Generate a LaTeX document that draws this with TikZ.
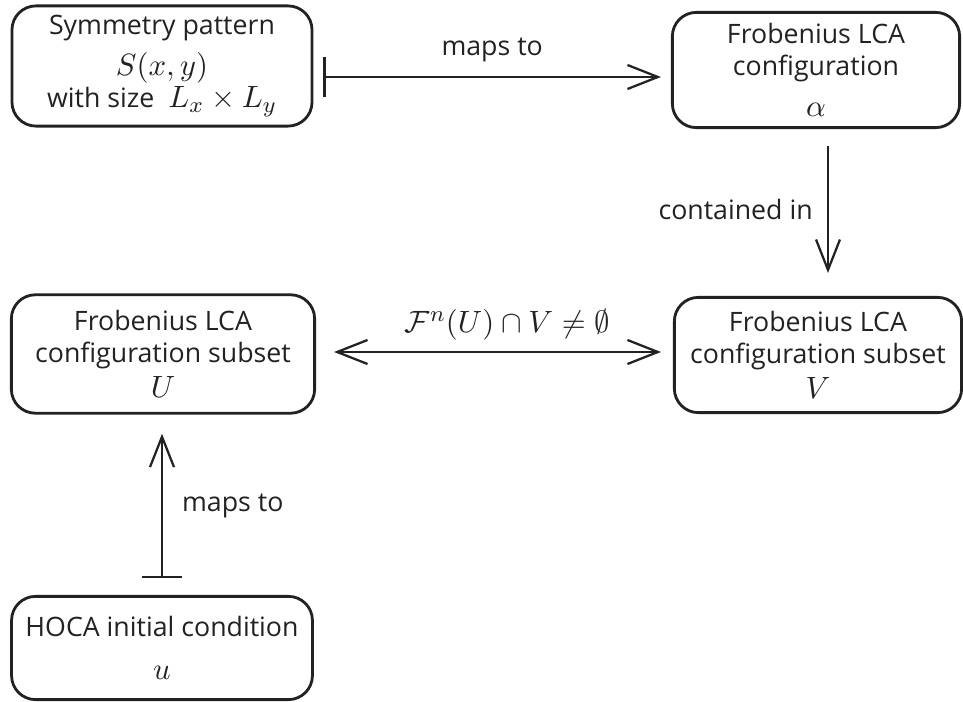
\documentclass[tikz,border=0pt]{standalone}
\usepackage{amsmath}
\usepackage{amssymb}
\usepackage{fontspec}
\setmainfont{Open Sans}
\usetikzlibrary{arrows.meta,positioning,calc}
\definecolor{encre}{HTML}{222222}
\newcommand{\mth}[1]{{\fontsize{11}{12}\selectfont$#1$}}
\tikzset{
  boxnode/.style={rectangle, rounded corners=0.3cm, draw=encre, line width=1pt,
               align=center, font=\fontsize{9.5}{11.5}\selectfont, text=encre},
  arr/.style={-{Straight Barb[length=0.38cm, width=0.3cm, line width=0.8pt]}, line width=0.8pt, draw=encre},
  maparr/.style={{Bar[width=0.5cm, line width=0.8pt]}-{Straight Barb[length=0.38cm, width=0.3cm, line width=0.8pt]}, line width=0.8pt, draw=encre},
  lbl/.style={font=\fontsize{9.5}{11.5}\selectfont, text=encre},
}

\begin{document}
\begin{tikzpicture}[x=0.0125cm, y=-0.0125cm]
    \useasboundingbox (0,0) rectangle (963,702);
    \node[boxnode, minimum width=3.75cm, minimum height=1.46cm] (sym) at (162,66) {Symmetry pattern\\[3pt]\mth{S(x,y)}\\with size~~\mth{L_x\times L_y}};
    \node[boxnode, minimum width=3.59cm, minimum height=1.44cm] (alpha) at (816,70) {Frobenius LCA\\configuration\\[3pt]\mth{\alpha}};
    \node[boxnode, minimum width=3.59cm, minimum height=1.44cm] (setV) at (818,355) {Frobenius LCA\\configuration subset\\[1pt]\mth{V}};
    \node[boxnode, minimum width=3.79cm, minimum height=1.48cm] (setU) at (163,354) {Frobenius LCA\\configuration subset\\[1pt]\mth{U}};
    \node[boxnode, minimum width=3.76cm, minimum height=1.29cm] (hoca) at (162,648) {HOCA initial condition\\[4pt]\mth{u}};
    \draw[maparr]($(sym.east)+(10,11)$) -- node[lbl, midway, above=0.06cm]{maps to} ($(alpha.west)+(-10,7)$);
    \draw[arr]($(alpha.south)+(12,17)$) -- node[lbl, midway, left=0.06cm]{contained in} ($(setV.north)+(10,-23)$);
    \draw[arr, {Straight Barb[length=0.38cm, width=0.3cm, line width=0.8pt]}-{Straight Barb[length=0.38cm, width=0.3cm, line width=0.8pt]}]($(setU.east)+(18,-2)$) -- node[lbl, pos=0.53, above=0.02cm]{\mth{\mathcal{F}^n(U)\cap V\neq\emptyset}} ($(setV.west)+(-12,-3)$);
    \draw[maparr]($(hoca.north)+(0,-17)$) -- node[lbl, midway, right=0.12cm]{maps to} ($(setU.south)+(-1,19)$);
  \end{tikzpicture}
\end{document}
